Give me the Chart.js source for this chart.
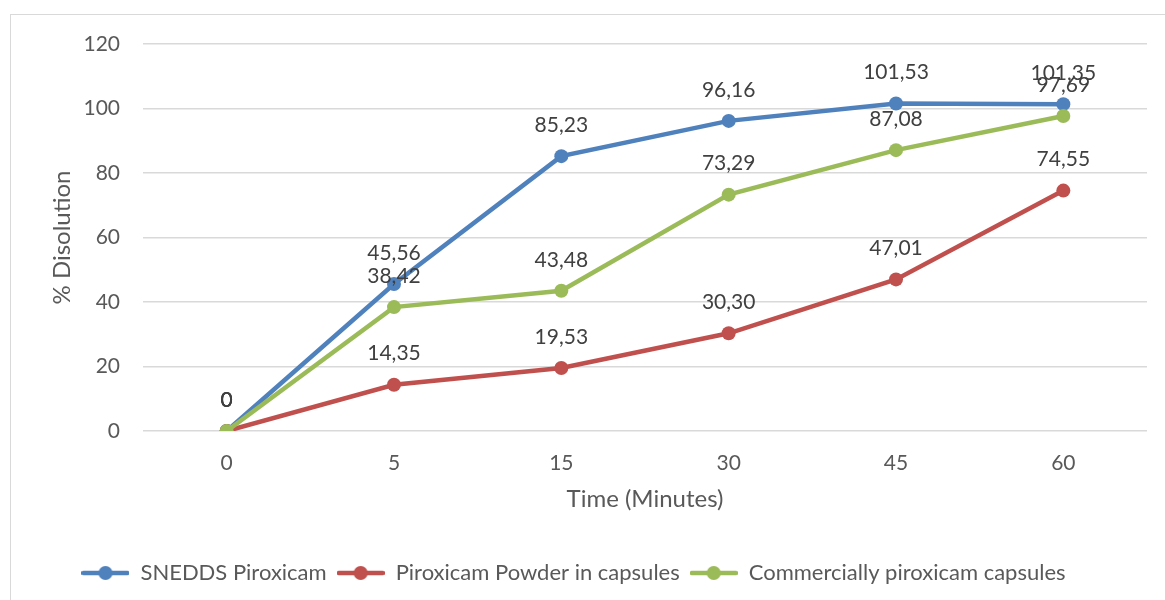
<!DOCTYPE html>
<html>
<head>
<meta charset="utf-8">
<script src="https://cdn.jsdelivr.net/npm/chart.js@4/dist/chart.umd.min.js"></script>
<style>
  html, body { margin: 0; padding: 0; background: #fff; }
  #wrap { position: relative; width: 1165px; height: 600px; overflow: hidden; }
  #frame { position: absolute; left: 10px; top: 14px; width: 1200px; height: 700px; border: 1.5px solid #d9d9d9; box-sizing: border-box; }
  canvas { position: absolute; left: 0; top: 0; }
</style>
</head>
<body>
<div id="wrap">
  <div id="frame"></div>
  <canvas id="chart" width="1165" height="600"></canvas>
</div>
<script>
const timeLabels = ["0", "5", "15", "30", "45", "60"];
const sneddsValues = [0, 45.56, 85.23, 96.16, 101.53, 101.35];
const powderValues = [0, 14.35, 19.53, 30.30, 47.01, 74.55];
const commercialValues = [0, 38.42, 43.48, 73.29, 87.08, 97.69];
const yTicks = [0, 20, 40, 60, 80, 100, 120];

const FONT = "Lato, 'Open Sans', sans-serif";

function fmt(v) {
  return v === 0 ? "0" : v.toFixed(2).replace(".", ",");
}

function legendIcon(color) {
  const c = document.createElement("canvas");
  c.width = 48; c.height = 16;
  const g = c.getContext("2d");
  g.strokeStyle = color;
  g.lineWidth = 4.5;
  g.lineCap = "round";
  g.beginPath(); g.moveTo(2, 8); g.lineTo(46, 8); g.stroke();
  g.fillStyle = color;
  g.beginPath(); g.arc(24, 8, 7, 0, Math.PI * 2); g.fill();
  return c;
}

// value labels above each point
const pointLabels = {
  id: "pointLabels",
  afterDatasetsDraw(chart) {
    const ctx = chart.ctx;
    ctx.save();
    ctx.font = "21px " + FONT;
    ctx.fillStyle = "#404040";
    ctx.textAlign = "center";
    ctx.textBaseline = "middle";
    chart.data.datasets.forEach((ds, i) => {
      chart.getDatasetMeta(i).data.forEach((pt, j) => {
        ctx.fillText(fmt(ds.data[j]), pt.x, pt.y - 31);
      });
    });
    ctx.restore();
  }
};

const series = [
  { label: "SNEDDS Piroxicam", data: sneddsValues, color: "#4f81bd", order: 2 },
  { label: "Piroxicam Powder in capsules", data: powderValues, color: "#c0504d", order: 1 },
  { label: "Commercially piroxicam capsules", data: commercialValues, color: "#9bbb59", order: 0 }
];

new Chart(document.getElementById("chart"), {
  type: "line",
  data: {
    labels: timeLabels,
    datasets: series.map(s => ({
      label: s.label,
      data: s.data,
      borderColor: s.color,
      backgroundColor: s.color,
      borderWidth: 4.5,
      pointRadius: 7,
      pointHoverRadius: 7,
      pointBorderWidth: 0,
      tension: 0,
      order: s.order
    }))
  },
  options: {
    responsive: false,
    animation: false,
    layout: { padding: { left: 0, right: 18, top: 44, bottom: 6 } },
    plugins: {
      tooltip: { enabled: false },
      legend: {
        position: "bottom",
        labels: {
          font: { family: FONT, size: 22 },
          color: "#595959",
          usePointStyle: true,
          pointStyleWidth: 48,
          padding: 10,
          generateLabels(chart) {
            return chart.data.datasets.map((ds, i) => ({
              text: ds.label,
              fillStyle: ds.borderColor,
              strokeStyle: ds.borderColor,
              pointStyle: legendIcon(ds.borderColor),
              hidden: false,
              datasetIndex: i,
              fontColor: "#595959"
            }));
          }
        }
      }
    },
    scales: {
      x: {
        offset: true,
        grid: { display: false, drawTicks: false },
        border: { display: false },
        ticks: { font: { family: FONT, size: 21 }, color: "#595959", padding: 20 },
        title: {
          display: true,
          text: "Time (Minutes)",
          font: { family: FONT, size: 24 },
          color: "#595959",
          padding: { top: 0, bottom: 38 }
        },
        afterFit(scale) { scale.height = 121; }
      },
      y: {
        min: 0,
        max: 120,
        afterBuildTicks(scale) { scale.ticks = yTicks.map(v => ({ value: v })); },
        grid: { color: "#d9d9d9", lineWidth: 1.5, drawTicks: false },
        border: { display: false },
        ticks: { font: { family: FONT, size: 21 }, color: "#595959", padding: 23 },
        title: {
          display: true,
          text: "% Disolution",
          font: { family: FONT, size: 24 },
          color: "#595959",
          padding: { top: 48, bottom: 0 }
        },
        afterFit(scale) { scale.width = 143; }
      }
    }
  },
  plugins: [pointLabels]
});
</script>
</body>
</html>
